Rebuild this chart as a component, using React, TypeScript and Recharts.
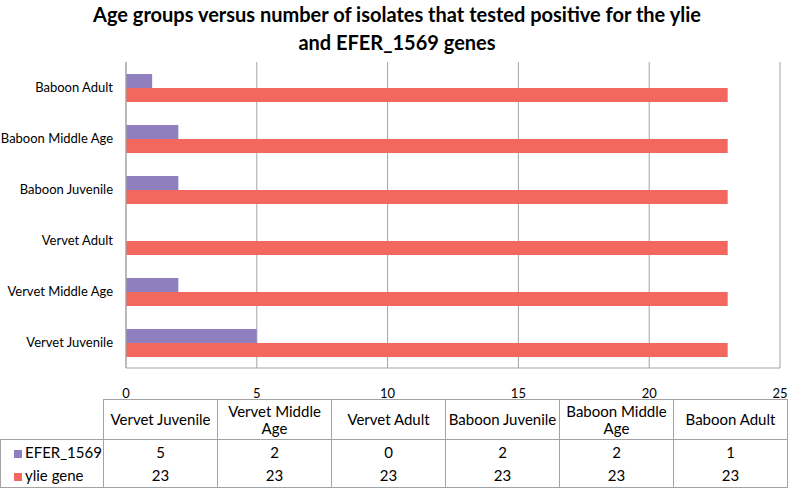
import React from 'react';
import { BarChart, Bar, XAxis, YAxis, CartesianGrid } from 'recharts';

const categories = ['Vervet Juvenile', 'Vervet Middle Age', 'Vervet Adult', 'Baboon Juvenile', 'Baboon Middle Age', 'Baboon Adult'];
const eferValues = [5, 2, 0, 2, 2, 1];
const ylieValues = [23, 23, 23, 23, 23, 23];
const xTicks = [0, 5, 10, 15, 20, 25];
const seriesNames = ['EFER_1569', 'ylie gene'];
const seriesColors = ['#8f7fbf', '#f2685f'];

const FONT = 'Lato, "Open Sans", sans-serif';
const GRID = '#a3a3a3';

const chartData = categories.map((c, i) => ({ name: c, efer: eferValues[i], ylie: ylieValues[i] }));

const cellBorder = `1px solid ${GRID}`;

// plain svg text so recharts doesn't wrap the longer labels
const CategoryTick = (props: any) => {
  const { x, y, payload } = props;
  return (
    <text x={x} y={y} dy="0.35em" textAnchor="end" fill="#000" fontSize={13} fontFamily={FONT}>
      {payload.value}
    </text>
  );
};

const DataTable: React.FC = () => {
  const rows = [eferValues, ylieValues];
  return (
    <table
      style={{
        position: 'absolute', left: 0, top: 399, borderCollapse: 'collapse', tableLayout: 'fixed',
        fontFamily: FONT, fontSize: 15, color: '#000', width: 787,
      }}
    >
      <colgroup>
        <col style={{ width: 103 }} />
        {categories.map(c => <col key={c} style={{ width: 114 }} />)}
      </colgroup>
      <tbody>
        <tr style={{ height: 40 }}>
          <td style={{ borderRight: cellBorder }} />
          {categories.map(c => (
            <td
              key={c}
              style={{ border: cellBorder, textAlign: 'center', padding: 0, lineHeight: '17px', whiteSpace: 'pre-line' }}
            >
              {c.replace('Middle Age', 'Middle\nAge')}
            </td>
          ))}
        </tr>
        {rows.map((vals, r) => (
          <tr key={r} style={{ height: 24 }}>
            <td
              style={{
                borderLeft: cellBorder, borderRight: cellBorder,
                borderTop: r === 0 ? cellBorder : 'none', borderBottom: r === 1 ? cellBorder : 'none',
                padding: '0 0 0 13px', whiteSpace: 'nowrap',
              }}
            >
              <span style={{ display: 'inline-block', width: 8, height: 8, background: seriesColors[r], marginRight: 3 }} />
              {seriesNames[r]}
            </td>
            {vals.map((v, i) => (
              <td
                key={i}
                style={{
                  borderLeft: cellBorder, borderRight: cellBorder,
                  borderTop: r === 0 ? cellBorder : 'none', borderBottom: r === 1 ? cellBorder : 'none',
                  textAlign: 'center', padding: 0,
                }}
              >
                {v}
              </td>
            ))}
          </tr>
        ))}
      </tbody>
    </table>
  );
};

export default function App() {
  return (
    <div style={{ position: 'absolute', left: 0, top: 0, width: 788, height: 489, background: '#fff', overflow: 'hidden' }}>
      <div
        style={{
          position: 'absolute', left: 0, top: 0, width: 794, textAlign: 'center',
          fontFamily: FONT, fontWeight: 700, fontSize: 20, lineHeight: '28px', color: '#000',
        }}
      >
        Age groups versus number of isolates that tested positive for the ylie
        <br />
        and EFER_1569 genes
      </div>
      <div style={{ position: 'absolute', left: 0, top: 0 }}>
        <BarChart
          width={788}
          height={408}
          data={chartData}
          layout="vertical"
          margin={{ top: 62, right: 8, bottom: 0, left: 0 }}
          barGap={0}
        >
          <CartesianGrid horizontal={false} stroke={GRID} />
          <XAxis
            type="number"
            domain={[0, 25]}
            ticks={xTicks}
            height={40}
            axisLine={{ stroke: GRID }}
            tickLine={false}
            tickSize={0}
            tickMargin={21}
            tick={{ fill: '#000', fontSize: 13, fontFamily: FONT }}
          />
          <YAxis
            type="category"
            dataKey="name"
            reversed
            width={126}
            axisLine={{ stroke: GRID }}
            tickLine={false}
            tickSize={0}
            tickMargin={13}
            tick={<CategoryTick />}
          />
          <Bar dataKey="efer" name={seriesNames[0]} fill={seriesColors[0]} barSize={14} isAnimationActive={false} />
          <Bar dataKey="ylie" name={seriesNames[1]} fill={seriesColors[1]} barSize={14} isAnimationActive={false} />
        </BarChart>
      </div>
      <DataTable />
    </div>
  );
}
